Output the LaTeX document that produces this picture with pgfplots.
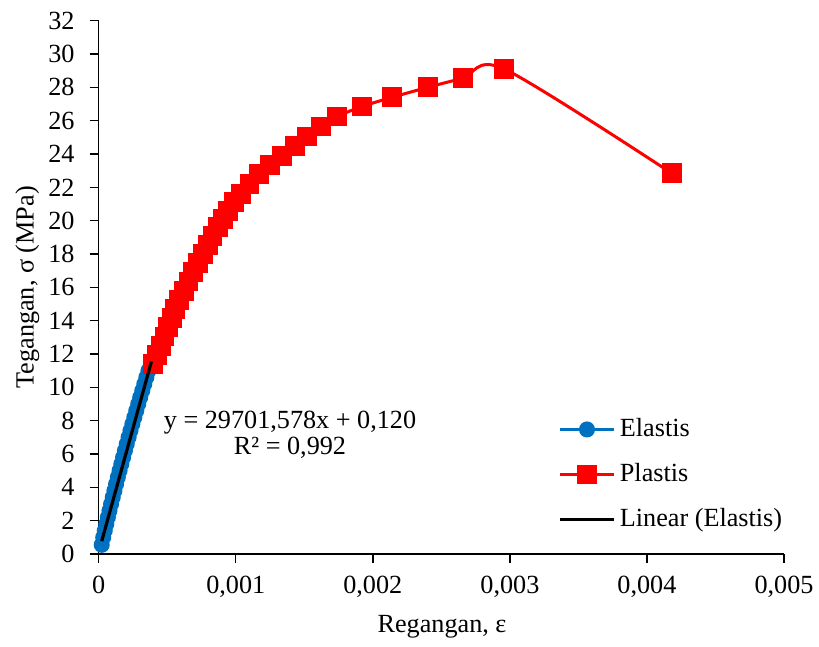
\documentclass[border=0pt]{standalone}
\usepackage{pgfplots}
\pgfplotsset{compat=1.18}
\usepackage{fontspec}
\setmainfont{Liberation Serif}
\definecolor{exblue}{RGB}{0,112,192}
\definecolor{exred}{RGB}{255,0,0}
\begin{document}
\fontsize{13.1}{15.5}\selectfont
\begin{tikzpicture}
\begin{axis}[
 set layers,
 clip marker paths=true,
 scale only axis, width=342.65pt, height=266.65pt,
 xmin=0, xmax=0.005, ymin=0, ymax=32,
 axis x line*=bottom, axis y line*=left,
 axis line style={line width=0.7pt},
 tick style={line width=0.7pt, black},
 tick align=outside, major tick length=4.5pt,
 xtick={0,0.001,0.002,0.003,0.004,0.005},
 xticklabels={0,{0,001},{0,002},{0,003},{0,004},{0,005}},
 scaled x ticks=false,
 ytick={0,2,4,6,8,10,12,14,16,18,20,22,24,26,28,30,32},
 /pgf/number format/assume math mode=true,
 yticklabel style={xshift=-3pt},
 xticklabel style={yshift=-2pt},
 xlabel={Regangan, ε}, ylabel={Tegangan, σ (MPa)},
 xlabel style={at={(axis description cs:0.501,-0.137)},anchor=center},
 ylabel style={at={(axis description cs:-0.104,0.5)},anchor=center},
 legend style={at={(axis description cs:0.661,0.27)},anchor=north west, draw=none, fill=none, row sep=7.5pt},
 legend cell align=left,
 legend image code/.code={\draw[mark repeat=2,mark phase=2] plot coordinates {(0cm,0cm) (0.48cm,0cm) (0.96cm,0cm)};},
 clip=false,
]
\addplot[exblue, line width=1.5pt, mark=*, mark size=3.25pt, mark options={fill=exblue, draw=exblue}] table {
x y
0.000022 0.55
0.0000330 1.0
0.0000441 1.4
0.0000555 1.8
0.000067 2.2
0.0000786 2.6
0.0000904 3.0
0.0001025 3.4
0.0001147 3.8
0.000127 4.2
0.0001395 4.6
0.0001522 5.0
0.0001651 5.4
0.0001781 5.8
0.0001914 6.2
0.0002047 6.6
0.0002182 7.0
0.0002319 7.4
0.0002459 7.8
0.00026 8.2
0.0002741 8.6
0.0002885 9.0
0.0003031 9.4
0.0003179 9.8
0.0003328 10.2
0.0003478 10.6
0.000363 11.0
0.000385 11.45
};
\addlegendentry{Elastis}
\addplot[exred, line width=1.5pt, smooth, mark=square*, mark size=4.2pt, mark options={fill=exred, draw=exred}] table {
x y
0.000397 11.4
0.000428 11.95
0.000452 12.5
0.00048 13.05
0.000503 13.6
0.000532 14.15
0.000558 14.7
0.000588 15.25
0.000622 15.8
0.000655 16.35
0.000688 16.9
0.000723 17.45
0.00076 18.0
0.000795 18.55
0.000830 19.1
0.000868 19.6
0.000905 20.1
0.000945 20.6
0.000990 21.1
0.00104 21.6
0.0011 22.2
0.00117 22.8
0.00125 23.35
0.00134 23.9
0.00143 24.5
0.00152 25.05
0.00162 25.65
0.00174 26.25
0.00192 26.85
0.00214 27.4
0.0024 28.0
0.00266 28.55
0.00296 29.1
0.00418 22.85
};
\addlegendentry{Plastis}
\addplot[black, line width=1.6pt, on layer=axis foreground] table {
x y
0.000022 0.773
0.000385 11.56
};
\addlegendentry{Linear (Elastis)}
\node[align=center, font=\fontsize{13.1}{12.8}\selectfont] at (axis cs:0.001396,7.17) {y = 29701,578x + 0,120\\R² = 0,992};
\coordinate (O) at (rel axis cs:0,0);
\end{axis}
\pgfresetboundingbox
\path[use as bounding box] ([shift={(-49.35pt,-46.5pt)}]O) rectangle ([shift={(360.15pt,277pt)}]O);
\end{tikzpicture}
\end{document}
